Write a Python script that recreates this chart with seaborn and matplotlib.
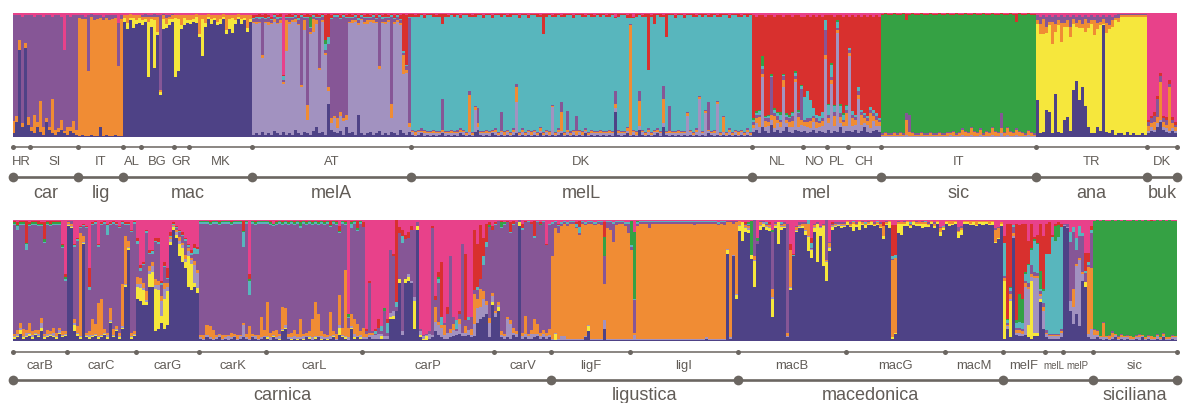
import numpy as np
import pandas as pd
import matplotlib
matplotlib.use("Agg")
import matplotlib.pyplot as plt
import seaborn as sns
from matplotlib.transforms import blended_transform_factory

# ---------------- clusters (stacking order bottom -> top) ----------------
CLUSTERS = ["M", "Y", "A", "L", "C", "D", "S", "R", "B"]
COLORS = {"M": "#4e4286", "Y": "#f6e73c", "A": "#a292c0", "L": "#f08c34",
          "C": "#865696", "D": "#58b6bd", "S": "#35a144", "R": "#d8302e",
          "B": "#e8418a"}

# ---------------- TOP PANEL: admixture (%) per individual ----------------
# key "main" = dominant cluster (gets the remainder to 100 %)
T_HR = dict(main="C", M=[3, 12, 70, 8, 72, 10], L=[10, 5, 8, 3, 4, 6], B=[2, 2, 2, 3, 2, 2])
T_SI = dict(main="C",
            M=[5, 3, 8, 4, 2, 12, 6, 3, 2, 4, 6, 3, 2, 5, 3, 2],
            L=[3, 15, 4, 25, 6, 3, 2, 28, 4, 3, 8, 2, 6, 3, 10, 4],
            B=[2, 3, 2, 2, 3, 2, 2, 3, 2, 2, 3, 30, 2, 3, 2, 2])
T_ITl = dict(main="L",
             C=[2, 3, 2, 45, 2, 4, 3, 2, 3, 2, 4, 3, 2, 35, 3],
             M=[1, 2, 1, 1, 2, 1, 1, 8, 1, 2, 1, 1, 2, 1, 1],
             B=[2, 2, 3, 2, 1, 2, 2, 2, 3, 2, 2, 2, 2, 8, 2])
T_AL = dict(main="M", Y=[3, 5, 2, 8, 3, 4], L=[2, 6, 3, 2, 4, 2], B=[2, 2, 1, 2, 2, 2])
T_BG = dict(main="M",
            Y=[4, 2, 45, 6, 38, 3, 2, 8, 3, 5, 2],
            L=[3, 2, 4, 2, 3, 12, 2, 3, 5, 2, 3],
            C=[1, 2, 1, 1, 2, 1, 60, 1, 2, 1, 1],
            B=[2, 1, 2, 2, 1, 2, 2, 1, 2, 2, 1])
T_GR = dict(main="M", Y=[48, 42, 3, 6, 2], L=[2, 3, 8, 2, 4], B=[2, 2, 2, 2, 2])
T_MK = dict(main="M",
            Y=[3, 2, 5, 2, 30, 3, 2, 4, 2, 3, 4, 2, 3, 8, 12, 3, 2, 4, 2, 3, 2],
            L=[4, 3, 2, 15, 3, 6, 2, 3, 2, 5, 3, 2, 12, 3, 2, 4, 2, 3, 2, 10, 3],
            B=[2, 2, 1, 2, 2, 2, 1, 2, 2, 2, 2, 1, 2, 2, 2, 2, 1, 2, 2, 2, 2])
T_AT = dict(main="A",
            M=[2, 3, 2, 4, 2, 3, 2, 5, 3, 2, 4, 2, 3, 2, 6, 3, 2, 4, 3, 2,
               5, 8, 3, 4, 2, 27, 6, 4, 3, 5, 2, 8, 3, 4, 2, 18, 3, 2, 3, 4,
               2, 3, 5, 2, 3, 2, 4, 3, 2, 6, 3, 2, 4],
            L=[1, 2, 1, 2, 1, 3, 1, 2, 1, 2, 1, 25, 2, 1, 2, 1, 2, 8, 12, 2,
               10, 3, 2, 1, 2, 3, 4, 2, 8, 3, 2, 4, 1, 2, 1, 2, 1, 2, 3, 1,
               2, 1, 2, 1, 2, 1, 12, 2, 1, 2, 15, 2, 3],
            C=[2, 3, 2, 30, 2, 3, 2, 2, 3, 2, 2, 2, 3, 2, 2, 3, 55, 2, 70, 3,
               2, 2, 40, 3, 2, 35, 80, 80, 82, 75, 82, 78, 3, 2, 3, 2, 2, 3, 2, 2,
               3, 2, 40, 2, 3, 2, 70, 2, 3, 2, 2, 3, 85],
            D=[1, 1, 2, 1, 1, 1, 1, 1, 2, 1, 3, 1, 1, 1, 1, 2, 1, 1, 1, 1,
               1, 1, 1, 1, 5, 6, 1, 1, 1, 1, 1, 1, 1, 1, 1, 2, 1, 1, 1, 1,
               1, 1, 1, 2, 1, 1, 1, 1, 1, 1, 1, 1, 1],
            S=[0, 0, 0, 0, 0, 0, 0, 0, 0, 0, 0, 0, 0, 0, 0, 0, 0, 0, 0, 8,
               0, 0, 0, 0, 3, 0, 0, 0, 0, 0, 0, 0, 0, 0, 0, 0, 0, 0, 0, 0,
               0, 0, 0, 0, 0, 0, 0, 0, 0, 0, 0, 0, 0],
            R=[2, 1, 2, 1, 3, 1, 2, 1, 1, 2, 1, 1, 2, 1, 1, 2, 1, 1, 2, 1,
               1, 2, 1, 1, 20, 18, 2, 1, 1, 2, 1, 1, 2, 1, 1, 2, 1, 1, 2, 1,
               1, 2, 1, 1, 2, 1, 1, 2, 1, 3, 30, 40, 2],
            B=[2, 2, 1, 2, 1, 2, 3, 1, 2, 1, 50, 2, 1, 2, 1, 2, 1, 2, 1, 2,
               1, 1, 2, 1, 2, 1, 2, 1, 1, 2, 1, 2, 1, 2, 1, 2, 1, 2, 1, 2,
               1, 2, 1, 2, 1, 2, 1, 2, 1, 2, 1, 2, 1])
T_DK = dict(main="D",
            M=[2, 1, 2, 3, 1, 2, 1, 2, 1, 2, 3, 1, 2, 1, 2, 1, 3, 2, 1, 2,
               1, 4, 6, 2, 1, 2, 1, 3, 2, 1, 2, 1, 2, 1, 2, 3, 1, 2, 1, 2,
               1, 2, 1, 3, 1, 2, 1, 2, 1, 2, 3, 1, 2, 1, 2, 1, 2, 1, 3, 1,
               2, 1, 2, 1, 2, 1, 2, 1, 20, 2, 1, 2, 3, 1, 2, 1, 6, 2, 1, 2,
               1, 2, 3, 1, 8, 2, 1, 2, 1, 2, 1, 2, 1, 2, 1, 2, 1, 2, 1, 3,
               2, 1, 2, 1, 2, 1, 2, 1, 2, 1, 2, 1, 2, 1],
            L=[1, 2, 1, 1, 2, 1, 1, 2, 1, 1, 2, 1, 1, 2, 1, 1, 2, 1, 1, 30,
               1, 2, 3, 1, 1, 2, 1, 1, 2, 1, 1, 2, 1, 1, 2, 12, 1, 2, 1, 1,
               2, 1, 1, 2, 1, 1, 2, 1, 1, 2, 15, 1, 2, 1, 1, 3, 1, 2, 1, 1,
               2, 1, 1, 2, 1, 1, 2, 1, 4, 2, 1, 1, 2, 88, 1, 2, 20, 1, 1, 2,
               1, 1, 2, 1, 20, 1, 2, 1, 1, 2, 1, 1, 2, 1, 1, 2, 1, 1, 2, 1,
               1, 2, 1, 1, 12, 1, 2, 1, 1, 2, 1, 1, 2, 1],
            A=[2, 1, 2, 1, 2, 1, 2, 1, 2, 1, 1, 2, 1, 2, 1, 2, 1, 2, 1, 2,
               1, 18, 2, 1, 2, 1, 2, 1, 2, 1, 2, 1, 2, 1, 2, 25, 1, 2, 1, 2,
               1, 2, 1, 2, 1, 2, 1, 22, 1, 2, 2, 1, 2, 1, 2, 1, 2, 1, 2, 1,
               1, 2, 1, 2, 1, 2, 1, 2, 3, 1, 2, 1, 2, 1, 2, 1, 3, 2, 1, 2,
               1, 2, 1, 2, 3, 1, 2, 1, 2, 1, 2, 1, 16, 2, 1, 2, 30, 1, 18, 2,
               1, 2, 25, 1, 2, 1, 2, 1, 2, 1, 2, 1, 2, 1],
            C=[1, 1, 1, 2, 1, 1, 1, 1, 1, 1, 25, 1, 1, 1, 1, 2, 1, 1, 1, 3,
               1, 1, 12, 1, 1, 1, 1, 1, 1, 1, 15, 1, 1, 1, 1, 3, 1, 1, 1, 1,
               1, 1, 1, 1, 1, 1, 1, 1, 1, 1, 8, 1, 15, 2, 1, 12, 1, 1, 1, 1,
               1, 1, 1, 1, 1, 1, 1, 1, 10, 1, 1, 1, 1, 1, 1, 1, 8, 1, 1, 1,
               1, 1, 1, 1, 10, 1, 20, 1, 1, 1, 1, 1, 1, 1, 1, 1, 1, 1, 1, 22,
               1, 1, 1, 1, 1, 1, 1, 1, 1, 1, 1, 1, 1, 1],
            R=[2, 1, 2, 1, 2, 1, 1, 2, 1, 2, 8, 2, 1, 1, 2, 1, 2, 1, 1, 2,
               1, 2, 1, 1, 2, 1, 1, 2, 1, 1, 2, 1, 1, 2, 1, 1, 2, 1, 1, 2,
               1, 1, 2, 1, 16, 2, 1, 1, 2, 1, 1, 2, 1, 1, 2, 1, 1, 2, 1, 1,
               2, 1, 1, 2, 1, 1, 2, 1, 1, 2, 1, 1, 2, 3, 1, 2, 1, 1, 2, 45,
               1, 8, 1, 2, 1, 18, 1, 1, 2, 1, 1, 2, 1, 1, 2, 1, 1, 2, 1, 1,
               2, 1, 1, 2, 1, 1, 2, 1, 1, 2, 1, 1, 2, 1],
            B=[1, 2, 1, 1, 2, 1, 1, 1, 2, 1, 1, 1, 2, 1, 1, 1, 2, 1, 1, 1,
               2, 1, 1, 1, 2, 1, 1, 2, 1, 1, 1, 1, 2, 1, 1, 1, 2, 1, 1, 2,
               1, 1, 1, 2, 1, 1, 1, 2, 1, 1, 2, 1, 1, 1, 2, 1, 1, 1, 2, 1,
               1, 2, 1, 1, 1, 2, 1, 1, 3, 1, 1, 1, 2, 1, 3, 1, 1, 2, 1, 1,
               2, 1, 1, 1, 2, 1, 1, 1, 2, 1, 1, 2, 1, 1, 1, 2, 1, 1, 1, 2,
               1, 1, 2, 1, 1, 1, 2, 1, 1, 1, 2, 1, 1, 1])
T_NL = dict(main="R",
            M=[4, 6, 3, 8, 5, 3, 10, 4, 6, 3, 5, 8, 4, 3, 6, 5, 4],
            A=[3, 5, 5, 40, 3, 6, 4, 3, 5, 5, 35, 3, 4, 5, 38, 3, 6],
            L=[3, 4, 8, 3, 5, 3, 4, 10, 3, 4, 6, 3, 4, 5, 3, 8, 4],
            C=[2, 3, 2, 4, 2, 3, 30, 2, 3, 2, 3, 2, 3, 4, 2, 3, 25],
            D=[2, 1, 3, 2, 1, 2, 1, 3, 2, 4, 1, 2, 1, 2, 3, 1, 2],
            S=[1, 2, 1, 8, 1, 1, 2, 1, 1, 2, 1, 1, 2, 1, 1, 2, 1],
            B=[2, 3, 2, 2, 3, 2, 2, 3, 2, 2, 3, 2, 2, 3, 2, 2, 3])
T_NO = dict(main="R",
            M=[5, 3, 4, 6, 3, 5, 4, 3], A=[4, 5, 3, 6, 4, 3, 5, 60],
            D=[18, 22, 15, 6, 3, 4, 5, 8], L=[3, 4, 6, 3, 5, 3, 4, 3],
            C=[2, 3, 2, 2, 3, 2, 2, 20], B=[3, 2, 3, 2, 3, 2, 3, 2])
T_PL = dict(main="R",
            M=[6, 3, 5, 4, 8, 3, 5], A=[5, 40, 4, 80, 3, 6, 4],
            D=[8, 10, 5, 5, 6, 4, 3], L=[4, 3, 8, 2, 5, 3, 10],
            C=[3, 2, 3, 2, 3, 2, 3], S=[1, 2, 1, 1, 2, 1, 1], B=[2, 2, 3, 2, 2, 3, 2])
T_CH = dict(main="R",
            M=[5, 4, 6, 3, 5, 8, 4, 3, 5, 6, 4], A=[60, 5, 4, 28, 5, 3, 6, 4, 8, 3, 5],
            L=[3, 6, 4, 3, 8, 4, 3, 12, 4, 5, 3], C=[2, 3, 2, 3, 2, 3, 2, 3, 2, 3, 2],
            D=[2, 3, 2, 3, 2, 1, 2, 2, 3, 2, 1], B=[3, 2, 3, 2, 3, 2, 3, 2, 3, 2, 3])
T_ITs = dict(main="S",
             L=[1, 2, 1, 1, 2, 1, 2, 1, 12, 3, 2, 1, 1, 2, 1, 1, 2, 1, 1, 2,
                1, 1, 2, 1, 3, 1, 2, 4, 3, 2, 5, 3, 2, 4, 1, 3, 2, 5, 3, 2,
                4, 2, 5, 3, 2, 4, 3, 2, 1, 3, 2, 1],
             C=[1, 1, 1, 1, 1, 1, 1, 1, 5, 14, 1, 1, 1, 1, 1, 1, 1, 1, 1, 1,
                1, 1, 1, 1, 1, 1, 1, 1, 1, 1, 1, 1, 1, 1, 1, 1, 1, 1, 1, 1,
                12, 1, 1, 1, 1, 1, 1, 1, 1, 1, 1, 1],
             A=[1, 1, 1, 1, 1, 1, 1, 1, 2, 1, 1, 1, 1, 1, 1, 1, 1, 1, 1, 1,
                1, 1, 1, 2, 1, 1, 1, 2, 1, 1, 2, 1, 1, 2, 1, 1, 1, 2, 1, 1,
                3, 1, 2, 1, 1, 2, 1, 1, 1, 2, 1, 1],
             R=[1, 1, 1, 1, 1, 1, 1, 1, 5, 1, 1, 1, 1, 1, 1, 1, 1, 1, 1, 1,
                1, 1, 1, 1, 1, 1, 1, 1, 1, 1, 1, 1, 1, 1, 1, 1, 1, 1, 1, 1,
                1, 1, 1, 1, 1, 6, 1, 1, 1, 1, 1, 1],
             B=[1, 0, 1, 1, 0, 1, 1, 0, 1, 1, 0, 1, 1, 0, 1, 1, 0, 1, 1, 0,
                1, 1, 0, 1, 1, 0, 1, 1, 0, 1, 1, 0, 1, 1, 0, 1, 1, 0, 1, 1,
                0, 1, 1, 0, 1, 1, 0, 1, 1, 0, 1, 1])
T_TR = dict(main="Y",
            M=[30, 3, 4, 22, 20, 3, 35, 4, 3, 14, 16, 5, 38, 45, 30, 40, 25, 8, 3, 3,
               8, 5, 90, 4, 3, 6, 2, 3, 3, 2, 4, 2, 3, 2, 2, 3, 2],
            L=[3, 8, 12, 5, 3, 18, 6, 4, 15, 3, 5, 8, 4, 3, 6, 3, 10, 4, 3, 12,
               5, 3, 4, 8, 3, 5, 2, 3, 1, 1, 1, 1, 1, 1, 1, 1, 1],
            C=[4, 6, 3, 8, 5, 4, 7, 3, 6, 5, 4, 8, 3, 5, 4, 6, 3, 5, 4, 3,
               6, 4, 3, 5, 8, 3, 2, 3, 1, 1, 1, 1, 1, 1, 1, 1, 1],
            B=[2, 3, 2, 3, 2, 3, 2, 3, 2, 3, 2, 3, 2, 3, 2, 3, 2, 3, 2, 3,
               2, 3, 2, 3, 2, 3, 2, 1, 1, 1, 1, 1, 1, 1, 1, 1, 1])
T_DKb = dict(main="B",
             M=[3, 5, 4, 8, 12, 6, 4, 3, 5, 3], L=[4, 3, 6, 5, 30, 4, 3, 35, 4, 3],
             C=[3, 4, 5, 15, 5, 3, 4, 3, 3, 2], A=[2, 3, 2, 3, 2, 2, 3, 2, 2, 2],
             R=[2, 2, 3, 2, 3, 2, 2, 3, 2, 2])

TOP_SUBS = [T_HR, T_SI, T_ITl, T_AL, T_BG, T_GR, T_MK, T_AT, T_DK,
            T_NL, T_NO, T_PL, T_CH, T_ITs, T_TR, T_DKb]
TOP_LABELS = ["HR", "SI", "IT", "AL", "BG", "GR", "MK", "AT", "DK",
              "NL", "NO", "PL", "CH", "IT", "TR", "DK"]
TOP_GROUPS = [("car", 2), ("lig", 1), ("mac", 4), ("melA", 1), ("melL", 1),
              ("mel", 4), ("sic", 1), ("ana", 1), ("buk", 1)]

# ---------------- BOTTOM PANEL ----------------
B_carB = dict(main="C",
              M=[2, 3, 6, 2, 3, 4, 2, 5, 3, 8, 2, 3, 4, 3, 2, 6, 3, 4],
              L=[2, 3, 4, 6, 2, 8, 3, 2, 3, 4, 2, 3, 2, 4, 3, 2, 3, 2],
              Y=[1, 1, 3, 1, 1, 2, 1, 1, 1, 3, 1, 1, 1, 1, 1, 1, 1, 1],
              A=[1, 2, 2, 1, 3, 1, 2, 1, 2, 4, 1, 2, 1, 3, 1, 2, 1, 1],
              D=[1, 3, 1, 1, 5, 1, 1, 1, 1, 1, 1, 1, 1, 1, 1, 1, 1, 1],
              S=[1, 1, 1, 1, 1, 1, 1, 1, 1, 1, 2, 1, 1, 1, 1, 1, 1, 2],
              R=[1, 2, 1, 1, 18, 1, 1, 1, 2, 1, 14, 1, 2, 1, 1, 1, 1, 2],
              B=[1, 2, 1, 1, 1, 2, 1, 1, 1, 2, 2, 1, 1, 1, 1, 1, 20, 45])
B_carC = dict(main="C",
              M=[95, 93, 8, 4, 2, 80, 3, 2, 3, 4, 2, 3, 5, 2, 15, 3, 8, 2, 10, 45, 75, 2, 4],
              L=[1, 2, 3, 5, 85, 5, 2, 3, 13, 8, 27, 30, 3, 2, 10, 5, 2, 3, 35, 40, 5, 3, 2],
              Y=[1, 1, 5, 2, 1, 1, 1, 1, 1, 1, 1, 1, 1, 1, 1, 1, 1, 1, 1, 1, 2, 1, 1],
              A=[1, 1, 2, 1, 1, 1, 1, 2, 1, 1, 1, 1, 1, 2, 1, 1, 1, 1, 1, 1, 1, 1, 1],
              D=[0, 0, 1, 1, 1, 1, 1, 3, 1, 1, 1, 1, 1, 8, 1, 1, 1, 1, 1, 1, 1, 1, 1],
              R=[0, 0, 1, 1, 1, 1, 1, 15, 1, 1, 1, 1, 1, 1, 1, 1, 1, 1, 1, 1, 1, 1, 1],
              B=[1, 1, 20, 15, 5, 3, 5, 40, 2, 1, 20, 2, 1, 3, 2, 1, 2, 5, 1, 2, 2, 8, 1])
B_carG = dict(main="C",
              M=[35, 33, 30, 30, 45, 45, 8, 10, 15, 10, 13, 80, 92, 85, 70, 65, 60, 45, 42, 45, 40],
              Y=[10, 11, 12, 2, 10, 12, 35, 32, 6, 25, 28, 3, 2, 3, 10, 12, 5, 25, 22, 3, 4],
              A=[2, 3, 2, 2, 3, 5, 3, 4, 12, 8, 4, 2, 1, 2, 3, 2, 3, 4, 3, 15, 12],
              L=[6, 5, 4, 7, 4, 3, 5, 4, 4, 5, 3, 2, 1, 2, 3, 2, 3, 3, 2, 3, 3],
              D=[3, 2, 1, 2, 1, 2, 1, 2, 2, 1, 1, 1, 1, 1, 1, 1, 1, 1, 2, 5, 4],
              R=[2, 3, 1, 1, 2, 1, 2, 3, 2, 3, 8, 3, 1, 1, 1, 2, 1, 1, 2, 3, 2],
              B=[15, 37, 35, 8, 25, 25, 15, 15, 50, 35, 40, 10, 2, 5, 8, 10, 15, 20, 25, 20, 22])
B_carK = dict(main="C",
              M=[2, 1, 3, 2, 1, 2, 3, 1, 2, 1, 2, 3, 1, 2, 3, 2, 1, 3, 2, 1, 2, 3],
              L=[2, 3, 8, 9, 7, 2, 1, 3, 2, 1, 4, 2, 3, 1, 2, 3, 10, 2, 1, 3, 17, 5],
              A=[1, 1, 2, 1, 1, 1, 2, 1, 1, 3, 1, 1, 1, 2, 10, 1, 1, 1, 2, 1, 1, 1],
              D=[1, 1, 1, 1, 1, 1, 1, 1, 1, 1, 1, 1, 1, 1, 12, 1, 12, 1, 1, 1, 1, 1],
              R=[0, 0, 0, 1, 0, 0, 1, 0, 0, 0, 1, 0, 0, 0, 8, 0, 4, 0, 1, 0, 0, 0],
              S=[1, 1, 1, 1, 1, 1, 1, 1, 1, 1, 1, 1, 1, 1, 1, 1, 1, 1, 1, 1, 1, 1],
              B=[1, 1, 1, 1, 1, 1, 1, 1, 1, 1, 1, 1, 1, 1, 1, 1, 45, 1, 1, 1, 1, 1])
B_carL = dict(main="C",
              M=[2, 1, 3, 2, 1, 8, 10, 2, 1, 2, 1, 2, 1, 3, 2, 1, 2, 3, 1, 2,
                 1, 2, 3, 1, 5, 3, 2, 1, 10, 2, 3, 2],
              Y=[1, 0, 1, 0, 1, 1, 1, 0, 1, 0, 1, 0, 1, 0, 1, 0, 1, 0, 1, 0,
                 1, 0, 1, 0, 6, 1, 1, 0, 1, 1, 0, 1],
              A=[1, 2, 1, 1, 2, 1, 2, 1, 1, 2, 1, 1, 2, 1, 1, 2, 1, 1, 2, 1,
                 1, 2, 1, 1, 2, 1, 1, 2, 1, 3, 1, 2],
              L=[28, 4, 3, 6, 2, 18, 14, 3, 4, 5, 3, 15, 2, 3, 4, 15, 28, 18, 4, 3,
                 2, 20, 3, 4, 25, 6, 55, 8, 10, 12, 10, 3],
              D=[1, 1, 1, 1, 1, 1, 1, 1, 1, 1, 1, 2, 1, 1, 1, 1, 1, 1, 1, 1,
                 1, 1, 1, 1, 1, 1, 1, 1, 4, 1, 1, 1],
              S=[1, 1, 1, 1, 1, 1, 1, 1, 1, 1, 1, 3, 1, 1, 1, 1, 1, 1, 1, 1,
                 1, 1, 1, 1, 1, 1, 1, 2, 1, 1, 1, 1],
              R=[0, 1, 0, 1, 0, 1, 0, 1, 0, 1, 0, 1, 0, 1, 0, 1, 0, 1, 0, 1,
                 0, 3, 0, 1, 4, 0, 1, 0, 1, 0, 6, 0],
              B=[1, 1, 3, 1, 1, 1, 1, 1, 1, 1, 1, 1, 1, 1, 1, 1, 1, 1, 1, 1,
                 1, 1, 1, 1, 5, 1, 1, 78, 1, 1, 1, 1])
B_carP = dict(main="C",
              M=[2, 2, 3, 2, 2, 2, 2, 2, 2, 18, 18, 25, 48, 5, 48, 50, 48, 10, 92, 3,
                 1, 1, 2, 3, 8, 5, 3, 2, 2, 3, 4, 5, 6, 4, 4, 5, 3, 4, 15, 18,
                 20, 22, 3, 30],
              Y=[0, 0, 0, 0, 0, 0, 2, 0, 0, 2, 3, 0, 3, 0, 3, 3, 0, 23, 3, 2,
                 1, 3, 0, 0, 0, 0, 0, 0, 0, 0, 0, 0, 0, 0, 0, 0, 0, 0, 0, 0,
                 0, 0, 0, 2],
              A=[1, 1, 2, 3, 3, 4, 2, 2, 2, 3, 4, 0, 0, 3, 0, 2, 2, 3, 0, 3,
                 2, 1, 4, 2, 8, 8, 8, 3, 5, 4, 5, 3, 8, 3, 3, 4, 2, 10, 12, 10,
                 15, 8, 12, 5],
              L=[8, 3, 2, 2, 0, 0, 0, 0, 0, 0, 0, 0, 0, 0, 0, 0, 0, 0, 0, 0,
                 0, 0, 0, 0, 12, 3, 2, 8, 0, 3, 5, 0, 4, 0, 5, 0, 5, 25, 8, 15,
                 6, 3, 4, 3],
              D=[0, 0, 0, 0, 2, 0, 4, 0, 8, 0, 0, 4, 0, 6, 0, 0, 0, 0, 0, 0,
                 0, 0, 0, 0, 0, 3, 7, 0, 0, 0, 0, 7, 0, 0, 0, 3, 0, 0, 3, 0,
                 7, 4, 0, 0],
              S=[0, 0, 0, 0, 0, 0, 0, 2, 0, 0, 0, 0, 0, 0, 0, 0, 0, 0, 0, 0,
                 0, 0, 0, 0, 0, 2, 0, 0, 0, 0, 0, 0, 0, 0, 0, 0, 0, 0, 0, 0,
                 0, 0, 2, 0],
              R=[4, 2, 2, 0, 2, 7, 0, 0, 3, 0, 2, 68, 5, 5, 4, 5, 3, 0, 0, 0,
                 0, 0, 0, 2, 3, 4, 45, 0, 6, 0, 0, 0, 3, 0, 55, 0, 0, 50, 35, 45,
                 15, 15, 2, 3],
              B=[2, 90, 50, 92, 90, 82, 88, 73, 82, 25, 28, 0, 6, 8, 12, 10, 5, 8, 2, 90,
                 95, 94, 92, 5, 63, 43, 35, 85, 72, 30, 80, 83, 75, 20, 28, 80, 80, 8, 20, 4,
                 15, 3, 2, 5])
B_carV = dict(main="C",
              M=[20, 25, 3, 2, 3, 2, 5, 3, 95, 2, 3, 2, 2, 3, 4, 2, 3, 2, 3],
              Y=[0, 3, 0, 0, 0, 0, 0, 0, 3, 0, 0, 0, 0, 0, 0, 0, 0, 0, 0],
              A=[3, 2, 2, 2, 15, 12, 2, 3, 0, 2, 3, 2, 4, 3, 2, 2, 3, 2, 2],
              L=[2, 2, 3, 2, 2, 3, 4, 2, 0, 3, 15, 2, 3, 12, 8, 3, 3, 3, 5],
              D=[1, 0, 1, 1, 0, 1, 1, 0, 0, 1, 0, 1, 0, 2, 1, 0, 1, 0, 1],
              S=[0, 0, 4, 1, 0, 0, 0, 0, 0, 0, 0, 0, 0, 0, 0, 1, 0, 0, 0],
              R=[1, 0, 1, 0, 1, 8, 2, 0, 0, 4, 1, 0, 1, 12, 0, 1, 0, 1, 0],
              B=[2, 1, 1, 2, 1, 2, 1, 2, 0, 3, 1, 1, 2, 1, 1, 2, 1, 20, 3])
B_ligF = dict(main="L",
              M=[1, 1, 1, 1, 1, 1, 1, 1, 1, 1, 1, 3, 8, 1, 1, 1, 1, 10, 1, 1, 1, 1, 1, 1, 1, 1],
              Y=[0, 5, 0, 0, 0, 0, 0, 0, 0, 0, 0, 0, 4, 0, 0, 0, 0, 0, 0, 0, 0, 0, 0, 0, 0, 0],
              A=[1, 1, 1, 3, 3, 1, 1, 1, 1, 1, 1, 1, 1, 1, 1, 1, 1, 7, 1, 1, 1, 1, 1, 1, 1, 1],
              C=[27, 5, 6, 2, 1, 2, 1, 1, 1, 1, 1, 1, 1, 1, 1, 1, 2, 23, 5, 6, 15, 2, 1, 1, 2, 8],
              D=[1, 1, 1, 1, 1, 1, 1, 1, 3, 5, 1, 1, 1, 1, 1, 1, 1, 0, 1, 1, 1, 1, 1, 1, 1, 1],
              S=[0, 0, 0, 0, 0, 0, 0, 0, 0, 0, 0, 0, 0, 0, 0, 0, 0, 16, 0, 0, 0, 0, 0, 0, 0, 0],
              R=[0, 0, 1, 0, 0, 0, 0, 0, 1, 5, 0, 0, 0, 0, 0, 0, 0, 12, 0, 0, 0, 0, 0, 0, 0, 0],
              B=[2, 1, 3, 2, 1, 2, 1, 1, 2, 1, 1, 2, 1, 1, 2, 1, 1, 2, 1, 1, 2, 1, 1, 1, 2, 2])
B_ligI = dict(main="L",
              M=[1, 1, 1, 1, 1, 1, 1, 1, 1, 1, 1, 1, 1, 1, 1, 1, 1, 1, 1, 1,
                 1, 1, 1, 1, 1, 2, 1, 1, 1, 1, 1, 1, 72, 2, 70, 35],
              Y=[0, 0, 0, 0, 0, 0, 0, 0, 0, 0, 0, 0, 0, 0, 0, 0, 0, 0, 0, 0,
                 0, 0, 0, 0, 0, 0, 0, 0, 0, 0, 0, 0, 3, 0, 0, 3],
              A=[1, 4, 1, 1, 1, 1, 1, 1, 1, 1, 1, 1, 1, 1, 1, 1, 1, 1, 1, 1,
                 1, 1, 1, 1, 1, 1, 1, 1, 1, 1, 1, 1, 1, 1, 1, 1],
              C=[3, 27, 2, 1, 1, 1, 5, 1, 1, 1, 1, 1, 1, 1, 1, 1, 1, 1, 1, 1,
                 1, 2, 1, 1, 1, 1, 1, 1, 1, 1, 1, 2, 1, 1, 2, 1],
              D=[1, 1, 1, 1, 1, 1, 1, 1, 1, 1, 1, 1, 1, 1, 1, 1, 1, 1, 1, 1,
                 1, 1, 1, 1, 1, 1, 1, 1, 1, 1, 1, 1, 0, 0, 0, 0],
              S=[20, 55, 1, 0, 0, 0, 0, 0, 0, 0, 0, 0, 0, 0, 0, 0, 0, 0, 0, 0,
                 0, 0, 0, 0, 0, 0, 0, 0, 0, 0, 0, 0, 0, 0, 0, 0],
              B=[1, 10, 1, 1, 1, 1, 1, 1, 1, 1, 1, 1, 1, 1, 1, 1, 1, 1, 1, 1,
                 1, 1, 1, 1, 1, 1, 1, 1, 1, 2, 1, 1, 1, 1, 1, 1])
B_macB = dict(main="M",
              Y=[4, 15, 3, 3, 3, 21, 0, 3, 3, 2, 2, 15, 2, 18, 2, 1, 0, 2, 0, 1,
                 1, 2, 3, 12, 6, 3, 32, 6, 33, 15, 3, 2, 1, 1, 2, 1],
              A=[1, 0, 1, 1, 0, 1, 0, 1, 1, 1, 1, 1, 1, 0, 1, 1, 1, 1, 0, 1,
                 1, 0, 1, 1, 1, 1, 0, 1, 0, 1, 1, 1, 1, 1, 1, 1],
              L=[3, 0, 2, 2, 0, 3, 0, 2, 0, 1, 2, 7, 1, 0, 1, 2, 3, 30, 0, 2,
                 1, 2, 5, 10, 0, 2, 0, 0, 1, 1, 3, 1, 1, 0, 1, 1],
              C=[0, 0, 1, 1, 0, 30, 3, 1, 1, 1, 1, 47, 1, 0, 1, 1, 90, 0, 0, 1,
                 2, 1, 1, 0, 1, 1, 1, 1, 1, 33, 1, 1, 1, 1, 1, 1],
              D=[0, 0, 0, 1, 0, 0, 0, 0, 0, 1, 0, 0, 0, 0, 1, 0, 0, 0, 1, 0,
                 0, 0, 0, 3, 4, 0, 0, 0, 0, 0, 0, 0, 0, 0, 0, 0],
              S=[0, 0, 0, 1, 28, 0, 2, 0, 0, 0, 0, 2, 0, 0, 0, 0, 0, 0, 0, 0,
                 0, 0, 0, 0, 0, 0, 0, 0, 0, 0, 0, 0, 0, 0, 0, 0],
              R=[0, 0, 1, 0, 0, 0, 0, 0, 0, 0, 1, 0, 0, 0, 0, 0, 0, 5, 1, 0,
                 0, 0, 0, 0, 4, 0, 0, 0, 0, 0, 0, 1, 0, 0, 0, 0],
              B=[1, 2, 2, 2, 1, 0, 15, 1, 1, 2, 2, 8, 2, 2, 2, 2, 3, 20, 28, 5,
                 2, 2, 2, 0, 15, 3, 2, 5, 3, 0, 18, 2, 2, 2, 2, 2])
B_macG = dict(main="M",
              Y=[2, 1, 6, 2, 6, 1, 3, 1, 2, 1, 1, 1, 3, 1, 5, 1, 1, 8, 9, 2,
                 3, 2, 2, 2, 2, 4, 3, 2, 1, 2, 1, 3, 1],
              L=[1, 2, 1, 1, 1, 1, 1, 1, 1, 1, 1, 3, 8, 1, 1, 64, 62, 1, 1, 1,
                 1, 1, 1, 1, 1, 1, 1, 1, 1, 2, 1, 3, 1],
              C=[0, 1, 0, 1, 0, 1, 0, 1, 0, 1, 0, 1, 0, 1, 0, 1, 0, 1, 0, 1,
                 0, 1, 0, 1, 0, 1, 0, 1, 0, 1, 0, 1, 0],
              D=[0, 0, 1, 0, 0, 0, 1, 0, 0, 0, 1, 0, 0, 0, 0, 2, 2, 0, 0, 0,
                 0, 1, 0, 0, 0, 0, 1, 0, 0, 0, 0, 0, 1],
              R=[0, 0, 0, 0, 0, 0, 0, 0, 0, 0, 0, 0, 3, 0, 0, 26, 25, 0, 0, 0,
                 0, 0, 0, 0, 0, 0, 0, 0, 0, 0, 0, 0, 0],
              B=[1, 2, 1, 2, 1, 1, 2, 1, 1, 2, 1, 2, 2, 1, 1, 4, 4, 1, 2, 1,
                 1, 2, 1, 1, 2, 1, 1, 2, 1, 2, 1, 6, 5])
B_macM = dict(main="M",
              Y=[1, 2, 1, 1, 5, 4, 1, 1, 1, 2, 1, 1, 2, 1, 1, 2, 1, 1, 2],
              L=[1, 2, 2, 1, 1, 1, 1, 1, 2, 1, 3, 1, 1, 1, 2, 1, 10, 8, 1],
              C=[0, 0, 0, 0, 3, 2, 0, 0, 0, 0, 0, 0, 0, 0, 0, 0, 1, 1, 0],
              B=[1, 1, 1, 1, 6, 5, 1, 1, 1, 1, 1, 1, 1, 1, 1, 1, 7, 6, 2])
B_melF = dict(main="R",
              M=[2, 10, 3, 85, 5, 4, 4, 5, 3, 2, 4, 4, 32, 10],
              Y=[48, 0, 30, 0, 0, 0, 0, 0, 10, 48, 3, 3, 3, 0],
              A=[0, 2, 2, 2, 2, 3, 2, 40, 30, 3, 45, 45, 2, 15],
              L=[2, 1, 4, 2, 2, 2, 2, 3, 2, 2, 2, 2, 2, 3],
              C=[2, 2, 2, 5, 2, 2, 2, 2, 3, 8, 3, 2, 2, 3],
              D=[27, 2, 3, 2, 4, 5, 5, 5, 15, 12, 26, 24, 2, 10],
              S=[0, 1, 1, 0, 2, 23, 20, 2, 1, 2, 1, 1, 15, 2],
              B=[13, 3, 3, 4, 3, 4, 3, 3, 17, 3, 14, 12, 3, 13])
B_melL = dict(main="D",
              M=[3, 2, 2, 2, 2, 3], A=[3, 2, 2, 2, 2, 4], L=[1, 1, 1, 1, 1, 1],
              C=[2, 1, 1, 1, 1, 2], S=[0, 0, 0, 12, 10, 0], R=[25, 26, 2, 2, 2, 3],
              B=[3, 2, 12, 3, 2, 3])
B_melP = dict(main="C",
              M=[95, 93, 25, 14, 22, 12, 50, 45, 3, 2],
              Y=[0, 0, 0, 0, 0, 0, 0, 4, 0, 0],
              A=[1, 1, 8, 14, 40, 55, 5, 0, 3, 8],
              L=[0, 0, 0, 15, 2, 2, 2, 0, 55, 50],
              D=[0, 0, 8, 4, 10, 8, 2, 2, 2, 3],
              R=[0, 0, 0, 0, 0, 0, 0, 15, 8, 3],
              B=[3, 3, 10, 6, 15, 5, 11, 27, 27, 5])
B_sic = dict(main="S",
             M=[2, 3, 2, 1, 2, 1, 2, 3, 1, 2, 1, 2, 1, 1, 2, 1, 3, 1, 2, 1, 1, 2, 1, 3, 1, 1, 2, 1],
             A=[3, 2, 1, 2, 1, 1, 1, 2, 1, 1, 2, 1, 1, 1, 1, 2, 1, 1, 1, 1, 1, 2, 1, 1, 1, 1, 1, 2],
             L=[4, 3, 1, 12, 1, 2, 4, 1, 1, 2, 1, 1, 2, 1, 1, 2, 1, 1, 1, 2, 1, 1, 1, 2, 1, 1, 1, 1],
             C=[1, 1, 0, 1, 0, 1, 1, 0, 1, 1, 0, 1, 0, 0, 1, 1, 0, 0, 1, 0, 0, 1, 0, 1, 0, 0, 1, 0],
             R=[0, 0, 0, 0, 0, 0, 0, 0, 0, 0, 0, 0, 0, 0, 0, 0, 0, 0, 0, 1, 0, 0, 0, 0, 0, 0, 0, 0],
             B=[1, 0, 1, 0, 1, 1, 0, 1, 0, 1, 0, 1, 1, 0, 1, 0, 1, 0, 1, 0, 1, 0, 1, 0, 1, 0, 1, 1])

BOT_SUBS = [B_carB, B_carC, B_carG, B_carK, B_carL, B_carP, B_carV, B_ligF, B_ligI,
            B_macB, B_macG, B_macM, B_melF, B_melL, B_melP, B_sic]
BOT_LABELS = ["carB", "carC", "carG", "carK", "carL", "carP", "carV", "ligF", "ligI",
              "macB", "macG", "macM", "melF", "melL", "melP", "sic"]
BOT_GROUPS = [("carnica", 7), ("ligustica", 2), ("macedonica", 3), ("", 3), ("siciliana", 1)]


def build(subs, names):
    rows, bounds, x0 = [], [0], 0
    for sub, nm in zip(subs, names):
        main = sub["main"]
        keys = [k for k in sub if k != "main"]
        lens = {k: len(sub[k]) for k in keys}
        if len(set(lens.values())) != 1:
            raise ValueError(f"{nm}: unequal lengths {lens}")
        n = lens[keys[0]]
        for i in range(n):
            vals = {k: float(sub[k][i]) for k in keys}
            vals[main] = vals.get(main, 0.0) + max(0.0, 100.0 - sum(vals.values()))
            tot = sum(vals.values())
            for c in CLUSTERS:
                if c in vals:
                    rows.append((x0 + i, c, vals[c] / tot))
        x0 += n
        bounds.append(x0)
    return pd.DataFrame(rows, columns=["ind", "cluster", "q"]), bounds


W, H = 1184, 403
fig = plt.figure(figsize=(W / 100, H / 100), dpi=100)
plt.rcParams["font.family"] = ["Liberation Sans", "DejaVu Sans"]

LINE = "#6b6661"
TXT = "#615c57"


def fy(py):
    return 1 - py / H


def panel(subs, names, groups, rect, y_small, y_slab, y_big, y_blab, small_fs=None):
    ax = fig.add_axes(rect)
    df, bounds = build(subs, names)
    n = bounds[-1]
    sns.histplot(data=df, x="ind", hue="cluster", weights="q", discrete=True,
                 multiple="stack", hue_order=CLUSTERS[::-1], palette=COLORS,
                 shrink=1, linewidth=0, alpha=1, legend=False, ax=ax,
                 antialiased=False)
    ax.set_xlim(-0.5, n - 0.5)
    ax.set_ylim(0, 1)
    ax.axis("off")
    tr = blended_transform_factory(ax.transData, fig.transFigure)
    b = np.array(bounds) - 0.5
    # subgroup line
    ax.plot([b[0], b[-1]], [fy(y_small)] * 2, transform=tr, color=LINE, lw=1.1,
            clip_on=False, solid_capstyle="butt")
    ax.plot(b, [fy(y_small)] * len(b), "o", transform=tr, color=LINE, ms=3.6,
            clip_on=False, mew=0)
    for i, nm in enumerate(names):
        fs = 9.4
        if small_fs and nm in small_fs:
            fs = small_fs[nm]
        ax.text((b[i] + b[i + 1]) / 2, fy(y_slab), nm, transform=tr, ha="center",
                va="center", fontsize=fs, color=TXT)
    # group line
    gb = [b[0]]
    k = 0
    for lab, cnt in groups:
        k += cnt
        gb.append(b[k])
    ax.plot([b[0], b[-1]], [fy(y_big)] * 2, transform=tr, color=LINE, lw=1.9,
            clip_on=False, solid_capstyle="butt")
    ax.plot(gb, [fy(y_big)] * len(gb), "o", transform=tr, color=LINE, ms=7,
            clip_on=False, mew=0)
    for i, (lab, cnt) in enumerate(groups):
        if lab:
            ax.text((gb[i] + gb[i + 1]) / 2, fy(y_blab), lab, transform=tr,
                    ha="center", va="center", fontsize=13, color=TXT)
    return ax


panel(TOP_SUBS, TOP_LABELS, TOP_GROUPS,
      [12.5 / W, 1 - 137 / H, 1164.5 / W, 124 / H], 147, 162, 177, 193)
panel(BOT_SUBS, BOT_LABELS, BOT_GROUPS,
      [13 / W, 1 - 341 / H, 1164 / W, 121 / H], 352, 366, 380, 396,
      small_fs={"melL": 7, "melP": 7})

fig.savefig("out.png", dpi=100, facecolor="white")
